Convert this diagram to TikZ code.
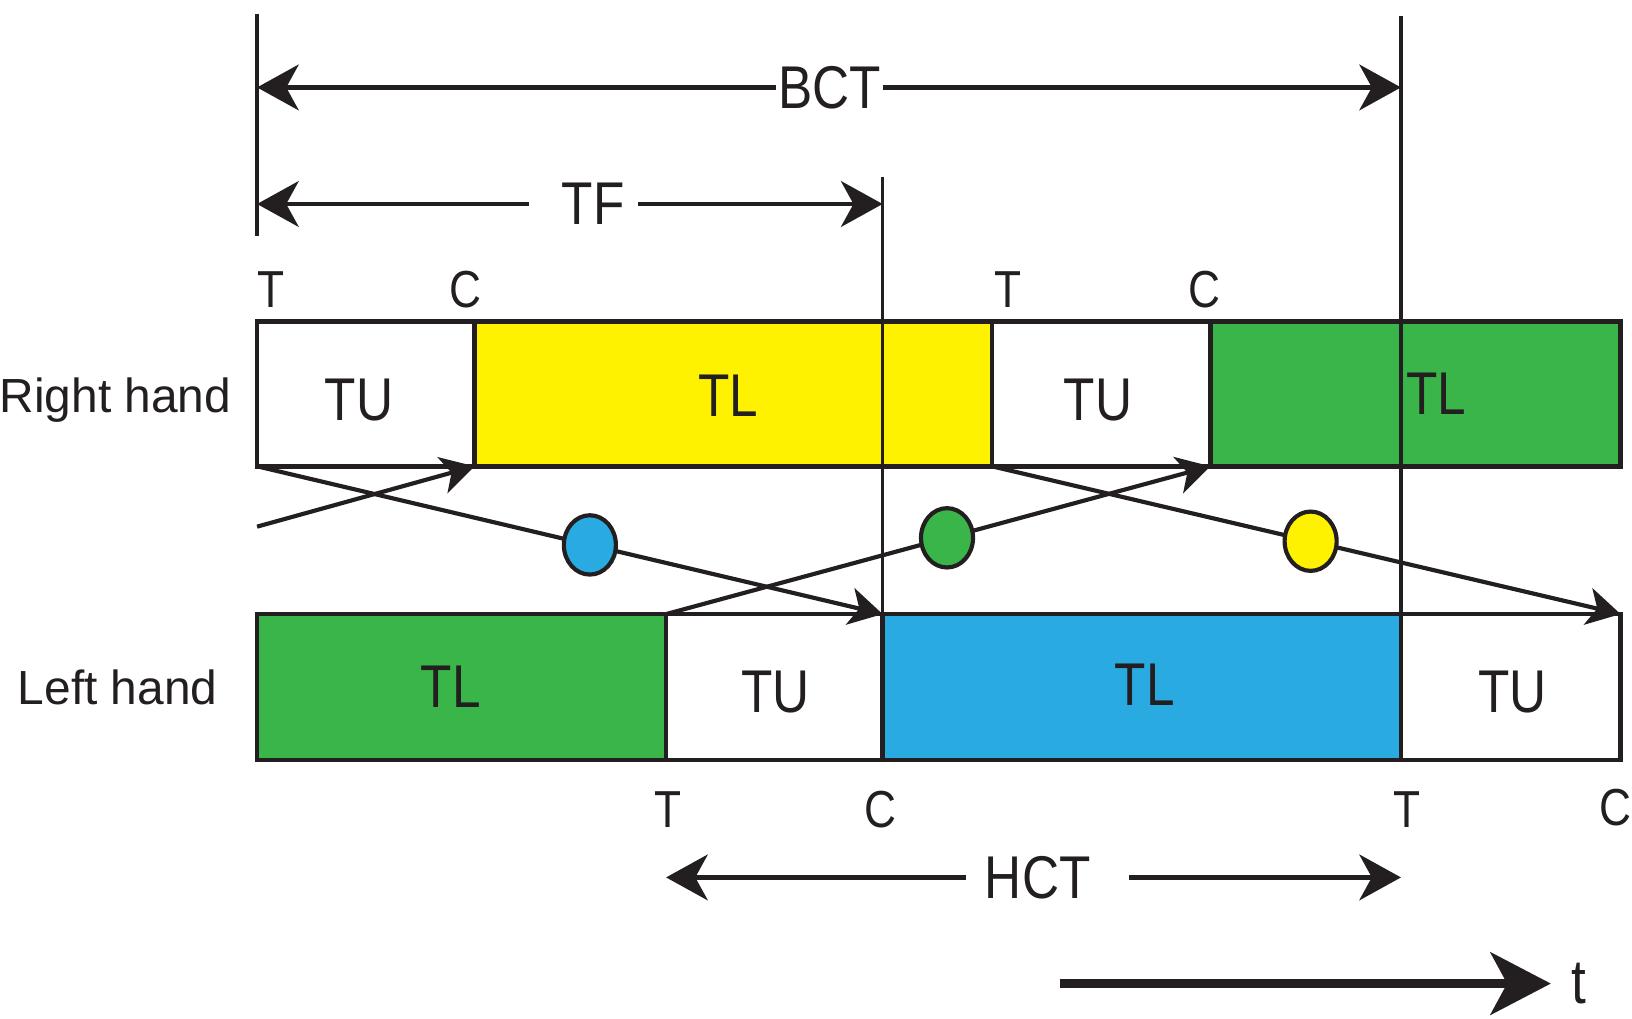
\documentclass[tikz,border=0pt]{standalone}
\usepackage{fontspec}
\setmainfont{Liberation Sans}
\newfontfamily\condf[FakeStretch=0.85]{Liberation Sans}
\usetikzlibrary{arrows.meta,shapes.geometric}
\definecolor{ink}{HTML}{231F20}
\definecolor{ylw}{HTML}{FFF200}
\definecolor{grn}{HTML}{39B54A}
\definecolor{blu}{HTML}{29ABE2}
\begin{document}
\begin{tikzpicture}[x=0.5pt,y=-0.5pt,
  box/.style={draw=ink,line width=2.2pt},
  big/.style={font=\condf\fontsize{29}{30}\selectfont, text=ink, inner sep=0pt},
  tick/.style={font=\condf\fontsize{25}{26}\selectfont, text=ink, inner sep=0pt},
  hand/.style={font=\fontsize{23}{25}\selectfont, text=ink, inner sep=0pt, anchor=base},
  vline/.style={draw=ink, line width=1.6pt},
  dim/.style={draw=ink, line width=2pt, -{Stealth[length=20pt,width=22pt,inset=6pt]}},
  flow/.style={draw=ink, line width=2pt, -{Stealth[length=16pt,width=18pt,inset=4.5pt]}},
  dot/.style={ellipse, draw=ink, line width=2pt, minimum width=25pt, minimum height=28.5pt, inner sep=0pt},
]
\useasboundingbox (0,0) rectangle (1568,979);

% key points
\coordinate (a0) at (247,448);
\coordinate (a1) at (456,448);
\coordinate (a2) at (953,448);
\coordinate (a3) at (1163,448);
\coordinate (b1) at (640,590);
\coordinate (b2) at (848,590);
\coordinate (b4) at (1557,590);
\coordinate (s0) at (247,506);

% upper bar (right hand)
\draw[box, fill=white] (247,309) rectangle (456,448);
\draw[box, fill=ylw]   (456,309) rectangle (953,448);
\draw[box, fill=white] (953,309) rectangle (1163,448);
\draw[box, fill=grn]   (1163,309) rectangle (1557,448);

% lower bar (left hand)
\draw[box, fill=grn]   (247,590) rectangle (640,730);
\draw[box, fill=white] (640,590) rectangle (848,730);
\draw[box, fill=blu]   (848,590) rectangle (1346,730);
\draw[box, fill=white] (1346,590) rectangle (1557,730);

% vertical reference lines
\coordinate (v0t) at (247,13);   \coordinate (v0b) at (247,227);
\coordinate (v1t) at (848,170);  \coordinate (v1b) at (848,730);
\coordinate (v2t) at (1346,15);  \coordinate (v2b) at (1346,730);
\draw[vline] (v0t) -- (v0b);
\draw[vline] (v1t) -- (v1b);
\draw[vline] (v2t) -- (v2b);

% box labels
\node[big] (rtu1) at (345,384) {TU};
\node[big] (rtl1) at (700,380) {TL};
\node[big] (rtu2) at (1055,384) {TU};
\node[big] (rtl2) at (1380,378) {TL};
\node[big] (ltl1) at (433,660) {TL};
\node[big] (ltu1) at (745,665) {TU};
\node[big] (ltl2) at (1100,658) {TL};
\node[big] (ltu2) at (1453,665) {TU};

% T / C labels
\node[tick] (t1) at (260,278) {T};
\node[tick] (c1) at (447,278) {C};
\node[tick] (t2) at (968,278) {T};
\node[tick] (c2) at (1157,278) {C};
\node[tick] (t3) at (642,778) {T};
\node[tick] (c3) at (846,778) {C};
\node[tick] (t4) at (1352,778) {T};
\node[tick] (c4) at (1552,776) {C};

% hand labels
\node[hand] (rh) at (111,396) {Right hand};
\node[hand] (lh) at (113,677) {Left hand};

% BCT
\node[big, inner xsep=1pt] (bct) at (797,84) {BCT};
\coordinate (bctL) at (247,84);
\coordinate (bctR) at (1346,84);
\draw[dim] (bct.west) -- (bctL);
\draw[dim] (bct.east) -- (bctR);

% TF
\node[big] (tf) at (570,196) {TF};
\coordinate (tfL) at (247,196);
\coordinate (tfR) at (848,196);
\coordinate (tfa) at (508,196);
\coordinate (tfb) at (613,196);
\draw[dim] (tfa) -- (tfL);
\draw[dim] (tfb) -- (tfR);

% HCT
\node[big] (hct) at (997,843) {HCT};
\coordinate (hctL) at (640,843);
\coordinate (hctR) at (1346,843);
\coordinate (hcta) at (928,843);
\coordinate (hctb) at (1085,843);
\draw[dim] (hcta) -- (hctL);
\draw[dim] (hctb) -- (hctR);

% crossing flows
\draw[flow] (s0) -- (a1);
\draw[flow] (a0) -- (b2) node[dot, fill=blu, pos=0.532] (dblue) {};
\draw[flow] (b1) -- (a3) node[dot, fill=grn, pos=0.516] (dgreen) {};
\draw[flow] (a2) -- (b4) node[dot, fill=ylw, pos=0.507] (dyellow) {};

% time arrow
\coordinate (tA) at (1018,945);
\coordinate (tB) at (1490,945);
\draw[draw=ink, line width=4pt, -{Stealth[length=29pt,width=30pt,inset=8pt]}] (tA) -- (tB);
\node[font=\condf\fontsize{30}{32}\selectfont, text=ink, inner sep=0pt] (tlab) at (1517,945) {t};
\end{tikzpicture}
\end{document}
